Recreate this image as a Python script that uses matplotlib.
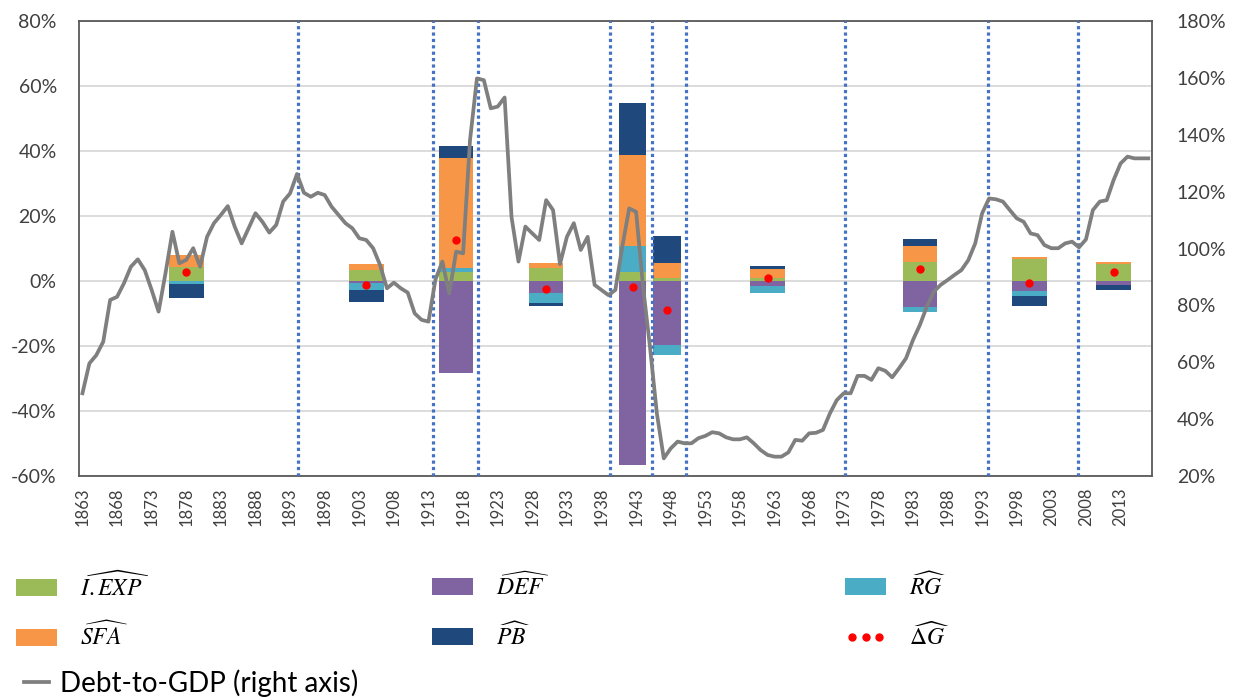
import matplotlib
matplotlib.use('Agg')
import matplotlib.pyplot as plt
import numpy as np
from matplotlib.ticker import PercentFormatter
from matplotlib.patches import Patch
from matplotlib.lines import Line2D

plt.rcParams['font.family'] = ['Lato', 'DejaVu Sans']
plt.rcParams['mathtext.fontset'] = 'stix'
plt.rcParams['axes.unicode_minus'] = False

# debt-to-GDP ratio (%), one value per year 1863-2017
years = np.arange(1863, 2018)
debt = [
    49.1, 59.6, 62.5, 67.2, 81.9, 83.0, 87.8,
    93.6, 96.2, 92.4, 85.4, 77.8, 91.3, 105.9, 94.8, 96.0, 100.1,
    93.6, 104.1, 108.9, 111.8, 114.9, 107.7, 101.8, 107.1, 112.4, 109.4,
    105.6, 108.3, 116.5, 119.4, 126.2, 119.6, 118.2, 119.6, 118.8, 114.7,
    111.8, 108.9, 107.1, 103.6, 103.0, 100.1, 94.2, 86.0, 88.0, 86.0,
    84.5, 77.2, 74.9, 74.3, 89.0, 95.4, 84.2, 98.9, 98.3, 138.1,
    159.8, 159.2, 149.3, 149.9, 153.1, 111.0, 95.4, 107.7, 105.3, 103.0,
    117.0, 113.5, 94.5, 104.1, 108.9, 99.5, 104.1, 87.2, 85.4, 83.6,
    85.4, 100.6, 114.1, 112.9, 86.6, 65.5, 42.0, 26.2, 29.7, 32.1,
    31.5, 31.5, 33.3, 34.1, 35.4, 35.0, 33.6, 32.9, 32.9, 33.6,
    31.5, 29.1, 27.4, 26.8, 26.8, 28.3, 32.7, 32.4, 35.0, 35.2,
    36.2, 42.0, 46.7, 49.1, 49.1, 55.2, 55.2, 53.8, 57.9, 57.0,
    54.7, 57.9, 61.4, 67.8, 73.1, 79.5, 84.8, 87.2, 88.9, 90.7,
    92.4, 95.9, 101.8, 112.4, 117.6, 117.3, 116.5, 113.5, 110.6, 109.4,
    105.3, 104.7, 101.2, 100.1, 100.1, 101.8, 102.4, 100.4, 103.2, 113.5,
    116.5, 117.0, 124.1, 129.9, 132.3, 131.7, 131.7, 131.7,
]

# period boundaries
breaks = [1894.2, 1913.6, 1920.2, 1939.2, 1945.3, 1950.2, 1973.2, 1993.8, 2006.8]

# decomposition of the change in debt ratio per period (percentage points)
period_mid = [1878, 1904, 1917, 1930, 1942.5, 1947.5, 1962, 1984, 1999.8, 2012]
period_len = [5, 5, 5, 5, 4, 4, 5, 5, 5, 5]
iexp = [4.3, 3.3, 2.9, 3.9, 2.9, 1.0, 0.9, 5.9, 6.7, 5.2]
deff = [0.0, -0.5, -28.4, -3.8, -56.6, -19.7, -1.5, -7.9, -3.0, -1.2]
rg = [-0.8, -2.3, 1.2, -2.9, 8.0, -3.1, -2.1, -1.5, -1.5, 0.0]
sfa = [3.6, 1.8, 33.6, 1.7, 27.9, 4.6, 2.9, 5.0, 0.6, 0.7]
pb = [-4.4, -3.7, 3.8, -1.0, 15.9, 8.2, 0.7, 1.9, -3.2, -1.6]
dg = [2.7, -1.2, 12.6, -2.5, -1.9, -9.0, 0.8, 3.6, -0.5, 2.9]

components = [
    (iexp, '#9BBB59', r'$\widehat{I.EXP}$'),
    (deff, '#8064A2', r'$\widehat{DEF}$'),
    (rg, '#4BACC6', r'$\widehat{RG}$'),
    (sfa, '#F79646', r'$\widehat{SFA}$'),
    (pb, '#1F497D', r'$\widehat{PB}$'),
]

W, H = 1236, 700
fig = plt.figure(figsize=(W / 100, H / 100), dpi=100)
ax = fig.add_axes([79 / W, 1 - 476 / H, (1151.7 - 79) / W, (476 - 21) / H])

# stacked bars: positives and negatives stacked separately
pos = np.zeros(len(period_mid))
neg = np.zeros(len(period_mid))
for vals, col, lab in components:
    v = np.array(vals)
    base = np.where(v >= 0, pos, neg)
    ax.bar(period_mid, v, width=period_len, bottom=base, color=col,
           edgecolor='none', zorder=2)
    pos = pos + np.where(v >= 0, v, 0)
    neg = neg + np.where(v < 0, v, 0)

ax.plot(period_mid, dg, ls='none', marker='o', color='#FF0000',
        markersize=5, zorder=4)

for b in breaks:
    ax.axvline(b, color='#4472C4', lw=2.3, ls=(0, (1, 1)), zorder=3)

ax.set_xlim(1862.5, 2017.5)
ax.set_ylim(-60, 80)
ax.set_yticks(range(-60, 81, 20))
ax.yaxis.set_major_formatter(PercentFormatter(decimals=0))
ax.set_xticks(range(1863, 2017, 5))
ax.tick_params(axis='x', labelrotation=90, length=0, pad=8,
               labelsize=12, labelcolor='#404040')
ax.tick_params(axis='y', length=0, pad=16, labelsize=14, labelcolor='#404040')
ax.yaxis.grid(True, color='#D9D9D9', lw=1.3)
ax.set_axisbelow(True)
for s in ax.spines.values():
    s.set_color('#595959')
    s.set_linewidth(1.3)

ax2 = ax.twinx()
ax2.plot(years, debt, color='#7F7F7F', lw=2.7, zorder=5)
ax2.set_ylim(20, 180)
ax2.set_yticks(range(20, 181, 20))
ax2.yaxis.set_major_formatter(PercentFormatter(decimals=0))
ax2.tick_params(axis='y', length=0, pad=18, labelsize=14, labelcolor='#404040')
for s in ax2.spines.values():
    s.set_visible(False)


def add_key(handle, label, x, y, size, hl, ht, pad):
    fig.legend([handle], [label], loc='center left',
               bbox_to_anchor=(x / W, 1 - y / H), frameon=False,
               borderpad=0, borderaxespad=0, handlelength=hl,
               handleheight=ht, handletextpad=pad, fontsize=size,
               numpoints=3)


keys = [
    (Patch(facecolor=components[0][1]), components[0][2], 16, 585),
    (Patch(facecolor=components[1][1]), components[1][2], 432, 585),
    (Patch(facecolor=components[2][1]), components[2][2], 845, 585),
    (Patch(facecolor=components[3][1]), components[3][2], 16, 635),
    (Patch(facecolor=components[4][1]), components[4][2], 432, 635),
    (Line2D([], [], ls='none', marker='o', color='#FF0000', markersize=5),
     r'$\widehat{\mathit{\Delta} G}$', 845, 635),
]
for h, lab, x, y in keys:
    add_key(h, lab, x, y, 17, 1.75, 0.73, 0.95)

add_key(Line2D([], [], color='#7F7F7F', lw=2.7), 'Debt-to-GDP (right axis)',
        16, 683, 20, 1.48, 0.7, 0.1)

fig.savefig('out.png', dpi=100)
